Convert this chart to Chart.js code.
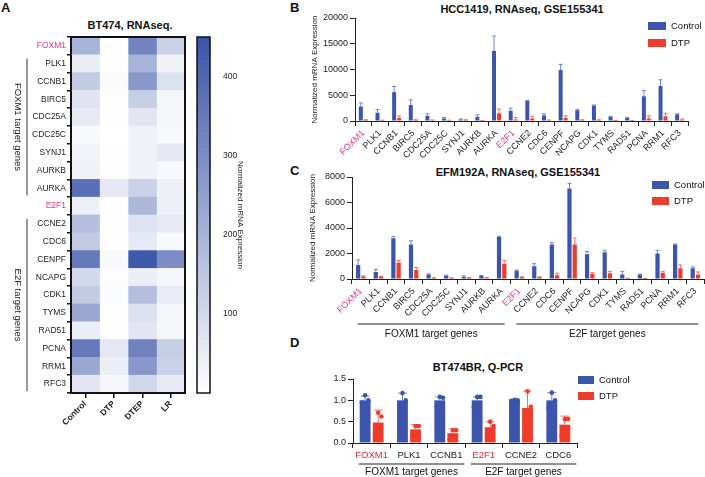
<!DOCTYPE html>
<html>
<head>
<meta charset="utf-8">
<script src="https://cdn.jsdelivr.net/npm/chart.js@4"></script>
<style>
  body { margin: 0; background: #fff; font-family: 'Liberation Sans', Arial, sans-serif; }
  #fig { position: relative; width: 705px; height: 477px; overflow: hidden; }
  canvas { position: absolute; }
  .panel { position: absolute; font-weight: bold; font-size: 13px; color: #111; line-height: 15px; }
  .ttl { position: absolute; font-weight: bold; font-size: 11px; color: #111; transform: translate(-50%, -50%); white-space: nowrap; }
</style>
</head>
<body>
<div id="fig">
  <div class="panel" style="left:1px;top:0px">A</div>
  <div class="panel" style="left:290px;top:0px">B</div>
  <div class="panel" style="left:290px;top:163px">C</div>
  <div class="panel" style="left:290px;top:335px">D</div>
  <div class="ttl" style="left:130px;top:25px">BT474, RNAseq.</div>
  <div class="ttl" style="left:522px;top:9px">HCC1419, RNAseq, GSE155341</div>
  <div class="ttl" style="left:518px;top:172px">EFM192A, RNAseq, GSE155341</div>
  <div class="ttl" style="left:478px;top:367px">BT474BR, Q-PCR</div>
  <canvas id="heat" width="190" height="440" style="left:0;top:0"></canvas>
  <canvas id="cbar" width="61" height="440" style="left:186px;top:0"></canvas>
  <canvas id="hcc" width="415" height="160" style="left:290px;top:0"></canvas>
  <canvas id="efm" width="415" height="185" style="left:290px;top:160px"></canvas>
  <canvas id="qpcr" width="415" height="137" style="left:290px;top:340px"></canvas>
</div>
<script>
const genes = ['FOXM1', 'PLK1', 'CCNB1', 'BIRC5', 'CDC25A', 'CDC25C', 'SYNJ1', 'AURKB', 'AURKA', 'E2F1',
  'CCNE2', 'CDC6', 'CENPF', 'NCAPG', 'CDK1', 'TYMS', 'RAD51', 'PCNA', 'RRM1', 'RFC3'];
const pinkGenes = ['FOXM1', 'E2F1'];
const groupNames = ['FOXM1 target genes', 'E2F target genes'];

// A: BT474 heatmap (normalized mRNA expression)
const heatConditions = ['Control', 'DTP', 'DTEP', 'LR'];
const heatControl = [200, 50, 140, 70, 55, 15, 30, 35, 380, 40, 170, 140, 350, 100, 140, 230, 45, 350, 230, 65];
const heatDTP = [5, 5, 10, 5, 5, 0, 5, 5, 60, 5, 5, 5, 15, 5, 8, 5, 5, 60, 45, 20];
const heatDTEP = [320, 200, 270, 130, 65, 35, 35, 35, 120, 190, 75, 55, 440, 45, 170, 80, 65, 330, 270, 105];
const heatLR = [120, 35, 80, 25, 20, 15, 60, 15, 40, 40, 55, 15, 300, 20, 50, 25, 25, 130, 120, 55];
const heatMax = 450;

// B: HCC1419 (mean and upper error)
const hccControl = [2800, 1600, 5600, 3100, 1000, 500, 300, 800, 13600, 2000, 3900, 1100, 9900, 2100, 3000, 800, 600, 4800, 6800, 1300];
const hccControlSd = [700, 600, 1100, 1000, 400, 200, 100, 400, 2900, 500, 100, 300, 1100, 100, 100, 100, 100, 1100, 1200, 100];
const hccDTP = [200, 100, 600, 200, 150, 100, 200, 50, 1500, 300, 500, 150, 600, 200, 200, 50, 100, 500, 900, 250];
const hccDTPSd = [50, 50, 400, 50, 50, 50, 50, 20, 800, 400, 400, 50, 400, 50, 50, 20, 20, 500, 600, 150];

// C: EFM192A
const efmControl = [1100, 550, 3200, 2700, 350, 250, 150, 250, 3300, 650, 1000, 2700, 7100, 1950, 2100, 350, 350, 2000, 2700, 850];
const efmControlSd = [400, 200, 150, 300, 50, 50, 100, 30, 50, 50, 200, 150, 400, 200, 150, 250, 30, 250, 50, 100];
const efmDTP = [200, 150, 1300, 700, 80, 80, 100, 100, 1200, 150, 150, 300, 2700, 400, 450, 50, 30, 500, 850, 350];
const efmDTPSd = [50, 50, 150, 200, 20, 20, 20, 20, 250, 20, 20, 150, 500, 100, 150, 10, 10, 100, 250, 200];

// D: BT474BR Q-PCR
const qpcrGenes = ['FOXM1', 'PLK1', 'CCNB1', 'E2F1', 'CCNE2', 'CDC6'];
const qpcrRedGenes = ['FOXM1', 'E2F1'];
const qpcrControl = [1.0, 1.0, 1.0, 1.0, 1.0, 1.0];
const qpcrControlSd = [0.10, 0.17, 0.08, 0.08, 0.02, 0.18];
const qpcrDTP = [0.48, 0.32, 0.23, 0.37, 0.82, 0.43];
const qpcrDTPSd = [0.29, 0.11, 0.10, 0.13, 0.40, 0.20];
const qpcrControlReps = [[0.95, 1.0, 1.12], [0.92, 1.0, 1.17], [0.86, 1.06, 1.08], [0.84, 1.08, 1.08], [0.99, 1.0, 1.01], [0.82, 1.0, 1.18]];
const qpcrDTPReps = [[0.11, 0.62, 0.71], [0.17, 0.40, 0.40], [0.09, 0.30, 0.30], [0.21, 0.40, 0.50], [0.40, 0.85, 1.21], [0.17, 0.56, 0.56]];

const BLUE = '#3a55ab';
const RED = '#ef3b2c';
const PINK = '#e8338c';
const FONT = "'Liberation Sans', Arial, sans-serif";
Chart.defaults.font.family = FONT;
Chart.defaults.color = '#222';
Chart.defaults.animation = false;

const colorFor = v => {
  const t = Math.max(0, Math.min(1, v / heatMax));
  const mix = (a, b) => Math.round(a + (b - a) * t);
  return `rgb(${mix(255, 58)},${mix(255, 84)},${mix(255, 168)})`;
};

// error caps (upward only)
const errorBars = {
  id: 'errorBars',
  afterDatasetsDraw(chart) {
    const ctx = chart.ctx;
    const y = chart.scales.y;
    chart.data.datasets.forEach((ds, di) => {
      if (!ds.errors) return;
      const meta = chart.getDatasetMeta(di);
      ctx.save();
      ctx.strokeStyle = ds.errorColor;
      ctx.lineWidth = 1;
      meta.data.forEach((bar, i) => {
        const top = y.getPixelForValue(ds.data[i] + ds.errors[i]);
        const half = Math.max(2, bar.width * 0.4);
        ctx.beginPath();
        ctx.moveTo(bar.x, bar.y);
        ctx.lineTo(bar.x, top);
        ctx.moveTo(bar.x - half, top);
        ctx.lineTo(bar.x + half, top);
        ctx.stroke();
      });
      ctx.restore();
    });
  }
};

// replicate dots for the Q-PCR panel
const repDots = {
  id: 'repDots',
  afterDatasetsDraw(chart) {
    const ctx = chart.ctx;
    const y = chart.scales.y;
    const offs = [-0.3, 0.3, 0];
    chart.data.datasets.forEach((ds, di) => {
      if (!ds.reps) return;
      const meta = chart.getDatasetMeta(di);
      ctx.save();
      ctx.fillStyle = ds.backgroundColor;
      meta.data.forEach((bar, i) => {
        ds.reps[i].forEach((v, k) => {
          ctx.beginPath();
          ctx.arc(bar.x + offs[k] * bar.width, y.getPixelForValue(v), 2.3, 0, Math.PI * 2);
          ctx.fill();
        });
      });
      ctx.restore();
    });
  }
};

const boxLegend = {
  id: 'boxLegend',
  afterDraw(chart, args, opts) {
    if (opts.x === undefined) return;
    const ctx = chart.ctx;
    ctx.save();
    chart.data.datasets.forEach((ds, i) => {
      const y = opts.y + i * opts.gap;
      ctx.fillStyle = ds.backgroundColor;
      ctx.fillRect(opts.x, y - 4, opts.w, 8);
      ctx.fillStyle = '#111';
      ctx.font = `9.5px ${FONT}`;
      ctx.textBaseline = 'middle';
      ctx.fillText(ds.label, opts.x + opts.w + 5, y);
    });
    ctx.restore();
  }
};

const geneGroups = {
  id: 'geneGroups',
  afterDraw(chart, args, opts) {
    if (!opts.groups) return;
    const ctx = chart.ctx;
    const x = chart.scales.x;
    ctx.save();
    ctx.strokeStyle = '#222';
    ctx.lineWidth = 1;
    ctx.fillStyle = '#111';
    ctx.font = `10px ${FONT}`;
    ctx.textAlign = 'center';
    ctx.textBaseline = 'middle';
    opts.groups.forEach(g => {
      const x0 = x.getPixelForValue(g.from) - opts.padL;
      const x1 = x.getPixelForValue(g.to) + opts.padR;
      ctx.beginPath();
      ctx.moveTo(x0, opts.y);
      ctx.lineTo(x1, opts.y);
      ctx.stroke();
      ctx.fillText(g.text, (x0 + x1) / 2, opts.textY);
    });
    ctx.restore();
  }
};

const heatFrame = {
  id: 'heatFrame',
  afterDraw(chart) {
    const { ctx, chartArea: a } = chart;
    const y = chart.scales.y;
    ctx.save();
    ctx.lineWidth = 2;
    ctx.strokeStyle = '#111';
    ctx.strokeRect(a.left, a.top, a.right - a.left, a.bottom - a.top);
    ctx.lineWidth = 1;
    ctx.strokeStyle = '#333';
    ctx.fillStyle = '#222';
    ctx.font = `9.5px ${FONT}`;
    ctx.textAlign = 'center';
    ctx.textBaseline = 'middle';
    [[1, 8, groupNames[0]], [10, 19, groupNames[1]]].forEach(([from, to, text]) => {
      const y0 = y.getPixelForValue(from) - 5;
      const y1 = y.getPixelForValue(to) + 7;
      ctx.beginPath();
      ctx.moveTo(27, y0);
      ctx.lineTo(27, y1);
      ctx.stroke();
      ctx.save();
      ctx.translate(18, (y0 + y1) / 2);
      ctx.rotate(Math.PI / 2);
      ctx.fillText(text, 0, 0);
      ctx.restore();
    });
    ctx.restore();
  }
};

const frameOnly = {
  id: 'frameOnly',
  afterDraw(chart) {
    const { ctx, chartArea: a } = chart;
    ctx.save();
    ctx.lineWidth = 1.5;
    ctx.strokeStyle = '#111';
    ctx.strokeRect(a.left, a.top, a.right - a.left, a.bottom - a.top);
    ctx.restore();
  }
};

// A: heatmap as stacked horizontal cells
const heatValues = [heatControl, heatDTP, heatDTEP, heatLR];
new Chart(document.getElementById('heat'), {
  type: 'bar',
  data: {
    labels: genes,
    datasets: heatConditions.map((c, j) => ({
      label: c,
      data: genes.map(() => 1),
      backgroundColor: heatValues[j].map(colorFor),
      borderWidth: 0,
      barPercentage: 1,
      categoryPercentage: 1
    }))
  },
  options: {
    responsive: false,
    indexAxis: 'y',
    layout: { padding: { top: 37, right: 5, left: 0, bottom: 0 } },
    plugins: { legend: { display: false }, tooltip: { enabled: false } },
    scales: {
      x: {
        stacked: true, min: 0, max: 4,
        afterBuildTicks: s => { s.ticks = [0.5, 1.5, 2.5, 3.5].map(v => ({ value: v })); },
        afterFit: s => { s.height = 47; },
        border: { display: false },
        grid: { drawOnChartArea: false, tickLength: 5, color: '#111', lineWidth: 1.5 },
        ticks: {
          autoSkip: false, minRotation: 45, maxRotation: 45, padding: 1,
          font: { size: 8.5, weight: 'bold' }, color: '#222',
          callback: (v, i) => heatConditions[i]
        }
      },
      y: {
        stacked: true,
        afterFit: s => { s.width = 71; },
        border: { display: false },
        grid: { drawOnChartArea: false, tickLength: 4, color: '#111', lineWidth: 1.5 },
        ticks: {
          font: { size: 8.5 }, padding: 1,
          color: c => pinkGenes.includes(genes[c.index]) ? PINK : '#222'
        }
      }
    }
  },
  plugins: [heatFrame]
});

// A: colour bar
new Chart(document.getElementById('cbar'), {
  type: 'bar',
  data: {
    labels: [''],
    datasets: [{
      data: [[0, heatMax]],
      barPercentage: 1, categoryPercentage: 1, borderWidth: 0,
      backgroundColor: c => {
        const a = c.chart.chartArea;
        if (!a) return '#fff';
        const g = c.chart.ctx.createLinearGradient(0, a.bottom, 0, a.top);
        g.addColorStop(0, colorFor(0));
        g.addColorStop(1, colorFor(heatMax));
        return g;
      }
    }]
  },
  options: {
    responsive: false,
    layout: { padding: { top: 37, right: 0, left: 11, bottom: 47 } },
    plugins: { legend: { display: false }, tooltip: { enabled: false } },
    scales: {
      x: { display: false },
      y: {
        position: 'right', min: 0, max: heatMax,
        afterFit: s => { s.width = 37; },
        border: { display: false },
        grid: { display: false },
        ticks: { stepSize: 100, padding: 5, font: { size: 8.5 }, callback: v => (v > 0 && v % 100 === 0) ? v : '' },
        title: { display: true, text: 'Normalized mRNA Expression', font: { size: 8 }, padding: 2 }
      }
    }
  },
  plugins: [frameOnly]
});

const barChart = (id, labels, labelColors, ctrl, ctrlSd, dtp, dtpSd, opts) => new Chart(document.getElementById(id), {
  type: 'bar',
  data: {
    labels: labels,
    datasets: [
      { label: 'Control', data: ctrl, errors: ctrlSd, reps: opts.ctrlReps, backgroundColor: BLUE, errorColor: '#6f84c8',
        barPercentage: opts.bp, categoryPercentage: opts.cp },
      { label: 'DTP', data: dtp, errors: dtpSd, reps: opts.dtpReps, backgroundColor: RED, errorColor: '#f26a5e',
        barPercentage: opts.bp, categoryPercentage: opts.cp }
    ]
  },
  options: {
    responsive: false,
    layout: { padding: opts.padding },
    plugins: {
      legend: { display: false }, tooltip: { enabled: false },
      boxLegend: opts.legend,
      geneGroups: opts.groups || {}
    },
    scales: {
      x: {
        afterFit: s => { s.height = opts.xHeight; },
        border: { color: '#222', width: 1 },
        grid: { drawOnChartArea: false, tickLength: 5, color: '#222' },
        ticks: {
          autoSkip: false, minRotation: opts.rot, maxRotation: opts.rot, padding: 2,
          font: { size: opts.xFont },
          color: c => labelColors.includes(labels[c.index]) ? opts.hiColor : '#222'
        }
      },
      y: {
        min: 0, max: opts.yMax,
        afterFit: s => { s.width = opts.yWidth; },
        border: { color: '#222', width: 1 },
        grid: { drawOnChartArea: false, tickLength: 5, color: '#222' },
        ticks: { stepSize: opts.yStep, padding: 2, font: { size: 9 }, callback: opts.yFmt || (v => v) },
        title: { display: !!opts.yTitle, text: opts.yTitle, font: { size: 8 }, padding: 4 }
      }
    }
  },
  plugins: [errorBars, repDots, boxLegend, geneGroups]
});

barChart('hcc', genes, pinkGenes, hccControl, hccControlSd, hccDTP, hccDTPSd, {
  bp: 0.8, cp: 0.6, rot: 45, xFont: 9, hiColor: PINK,
  padding: { top: 18, right: 17, left: 16, bottom: 0 },
  xHeight: 39, yWidth: 49, yMax: 20000, yStep: 5000,
  yTitle: 'Normalized mRNA Expression',
  legend: { x: 358, y: 26, gap: 17, w: 18 }
});

barChart('efm', genes, pinkGenes, efmControl, efmControlSd, efmDTP, efmDTPSd, {
  bp: 0.8, cp: 0.6, rot: 45, xFont: 9, hiColor: PINK,
  padding: { top: 17, right: 0, left: 14, bottom: 0 },
  xHeight: 66, yWidth: 48, yMax: 8000, yStep: 2000,
  yTitle: 'Normalized mRNA Expression',
  legend: { x: 362, y: 25, gap: 16, w: 17 },
  groups: {
    y: 164, textY: 174, padL: 3, padR: 3,
    groups: [{ from: 0, to: 8, text: groupNames[0] }, { from: 9, to: 19, text: groupNames[1] }]
  }
});

barChart('qpcr', qpcrGenes, qpcrRedGenes, qpcrControl, qpcrControlSd, qpcrDTP, qpcrDTPSd, {
  bp: 0.83, cp: 0.7, rot: 0, xFont: 9.5, hiColor: '#e8262a',
  padding: { top: 39, right: 128, left: 0, bottom: 0 },
  xHeight: 34, yWidth: 63, yMax: 1.5, yStep: 0.5, yFmt: v => v.toFixed(1),
  ctrlReps: qpcrControlReps, dtpReps: qpcrDTPReps,
  legend: { x: 288, y: 40, gap: 16, w: 16 },
  groups: {
    y: 124, textY: 132, padL: 13, padR: 18,
    groups: [{ from: 0, to: 2, text: groupNames[0] }, { from: 3, to: 5, text: groupNames[1] }]
  }
});
</script>
</body>
</html>
